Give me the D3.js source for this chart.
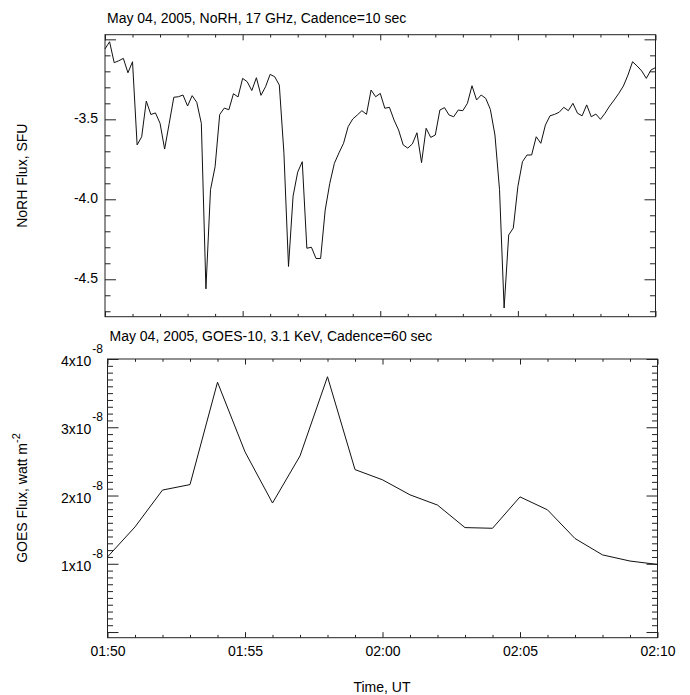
<!DOCTYPE html>
<html><head><meta charset="utf-8">
<script src="https://cdn.jsdelivr.net/npm/d3@7"></script>
<style>body{margin:0;background:#fff}svg{display:block}text{font-family:"Liberation Sans",Arial,sans-serif;fill:#000}</style>
</head><body><svg id="c" width="690" height="695"></svg>
<script>
// NoRH 17 GHz, 10 s cadence, 01:50:00 - 02:10:00 (121 samples)
const norhFlux = [
-3.06,-3.015,-3.146,-3.134,-3.119,-3.209,-3.14,-3.66,-3.609,-3.386,
-3.47,-3.46,-3.525,-3.686,-3.525,-3.362,-3.359,-3.348,-3.417,-3.352,
-3.394,-3.525,-4.56,-3.94,-3.796,-3.47,-3.43,-3.44,-3.34,-3.36,
-3.244,-3.265,-3.32,-3.24,-3.35,-3.296,-3.219,-3.234,-3.286,-3.71,
-4.42,-3.98,-3.83,-3.765,-4.306,-4.30,-4.37,-4.37,-4.067,-3.90,
-3.775,-3.71,-3.65,-3.546,-3.498,-3.473,-3.446,-3.469,-3.317,-3.359,
-3.338,-3.431,-3.425,-3.504,-3.567,-3.66,-3.68,-3.654,-3.584,-3.771,
-3.556,-3.613,-3.598,-3.442,-3.427,-3.473,-3.484,-3.442,-3.446,-3.40,
-3.29,-3.379,-3.348,-3.369,-3.438,-3.598,-3.94,-4.68,-4.223,-4.18,
-3.92,-3.765,-3.723,-3.723,-3.609,-3.65,-3.536,-3.478,-3.469,-3.456,
-3.425,-3.446,-3.40,-3.462,-3.478,-3.41,-3.484,-3.467,-3.50,-3.462,
-3.417,-3.379,-3.338,-3.292,-3.223,-3.14,-3.167,-3.198,-3.244,-3.192,
-3.177];
const norhCadenceSec = 10;
// GOES-10 3.1 keV, 60 s cadence (units of 1e-8 W m^-2)
const goesFlux = [1.10,1.54,2.08,2.16,3.66,2.64,1.89,2.58,3.74,2.38,2.23,2.01,1.86,1.53,1.52,1.98,1.79,1.37,1.13,1.04,0.99];
const goesCadenceSec = 60;
const xMajorLabels = ["01:50","01:55","02:00","02:05","02:10"];
const norhYTicks = [-3.5,-4.0,-4.5];
const goesYTicks = [1,2,3,4];

const t0 = Date.UTC(2005,4,4,1,50,0);
const t1 = Date.UTC(2005,4,4,2,10,0);
const svg = d3.select("#c");

function panel(opt){
  const {left,right,top,bottom,yDomain,yMajors,yMinors,yLabelFmt,showX,data,cad,title,titleY} = opt;
  const x = d3.scaleUtc().domain([new Date(t0),new Date(t1)]).range([left,right]);
  const y = d3.scaleLinear().domain(yDomain).range([bottom,top]);
  const g = svg.append("g");
  const H = bottom-top, W = right-left;
  const xMaj = 0.02*H, yMaj = 0.02*W;
  const majT = d3.range(0,21,5).map(m=>new Date(t0+m*60000));
  const minT = d3.range(0,21,1).filter(m=>m%5).map(m=>new Date(t0+m*60000));
  const styleAxis = s => { s.select(".domain").remove(); s.selectAll("line").attr("stroke","#222"); };
  g.append("g").attr("transform",`translate(0,${bottom})`).call(d3.axisBottom(x).tickValues(majT).tickSize(-xMaj).tickPadding(8)
    .tickFormat((d,i)=>showX?xMajorLabels[i]:"")).call(styleAxis).selectAll("text").attr("font-size",14).attr("font-family","Liberation Sans, Arial");
  g.append("g").attr("transform",`translate(0,${bottom})`).call(d3.axisBottom(x).tickValues(minT).tickSize(-xMaj/2).tickFormat("")).call(styleAxis);
  g.append("g").attr("transform",`translate(0,${top})`).call(d3.axisTop(x).tickValues(majT).tickSize(-xMaj).tickFormat("")).call(styleAxis);
  g.append("g").attr("transform",`translate(0,${top})`).call(d3.axisTop(x).tickValues(minT).tickSize(-xMaj/2).tickFormat("")).call(styleAxis);
  g.append("g").attr("transform",`translate(${left},0)`).call(d3.axisLeft(y).tickValues(yMajors).tickSize(-yMaj).tickFormat("")).call(styleAxis);
  g.append("g").attr("transform",`translate(${left},0)`).call(d3.axisLeft(y).tickValues(yMinors).tickSize(-yMaj/2).tickFormat("")).call(styleAxis);
  g.append("g").attr("transform",`translate(${right},0)`).call(d3.axisRight(y).tickValues(yMajors).tickSize(-yMaj).tickFormat("")).call(styleAxis);
  g.append("g").attr("transform",`translate(${right},0)`).call(d3.axisRight(y).tickValues(yMinors).tickSize(-yMaj/2).tickFormat("")).call(styleAxis);
  g.append("rect").attr("x",left).attr("y",top).attr("width",W).attr("height",H).attr("fill","none").attr("stroke","#222").attr("stroke-width",1);
  const line = d3.line().x((d,i)=>x(new Date(t0+i*cad*1000))).y(d=>y(d));
  g.append("path").datum(data).attr("d",line).attr("fill","none").attr("stroke","#111").attr("stroke-width",1);
  yLabelFmt(g,y);
  g.append("text").attr("x",left+2).attr("y",titleY).attr("font-size",14).text(title);
  return {x,y};
}

panel({left:105,right:655.5,top:34.7,bottom:316.7,yDomain:[-4.734,-2.971],
  yMajors:[-3.0,-3.5,-4.0,-4.5], yMinors:d3.range(-4.7,-2.95,0.1).map(v=>+v.toFixed(2)).filter(v=>Math.abs((v*2)-Math.round(v*2))>1e-6),
  yLabelFmt:(g,y)=>{ g.selectAll(".yl").data(norhYTicks).join("text").attr("x",98).attr("y",d=>y(d)+4).attr("text-anchor","end").attr("font-size",14).text(d=>d.toFixed(1)); },
  showX:false,data:norhFlux,cad:norhCadenceSec,title:"May 04, 2005, NoRH, 17 GHz, Cadence=10 sec",titleY:23});

panel({left:107.5,right:657.5,top:359,bottom:637.7,yDomain:[-0.083,4.0],
  yMajors:[0,1,2,3,4], yMinors:d3.range(1,41).filter(k=>k%10).map(k=>k/10),
  yLabelFmt:(g,y)=>{ const t=g.selectAll(".yl").data(goesYTicks).join("text").attr("x",103).attr("y",d=>y(d)+7).attr("text-anchor","end").attr("font-size",14);
    t.append("tspan").text(d=>d+"x10");
    t.append("tspan").attr("dx",1).attr("dy",-13).attr("font-size",12).text("-8"); },
  showX:true,data:goesFlux,cad:goesCadenceSec,title:"May 04, 2005, GOES-10, 3.1 KeV, Cadence=60 sec",titleY:341});

svg.append("text").attr("transform","translate(27,175.7) rotate(-90)").attr("text-anchor","middle").attr("font-size",14).text("NoRH Flux, SFU");
const gt = svg.append("text").attr("transform","translate(27,498) rotate(-90)").attr("text-anchor","middle").attr("font-size",14);
gt.append("tspan").text("GOES Flux, watt m");
gt.append("tspan").attr("dy",-7).attr("font-size",11).text("-2");
svg.append("text").attr("x",382).attr("y",692).attr("text-anchor","middle").attr("font-size",14).text("Time, UT");
</script></body></html>
